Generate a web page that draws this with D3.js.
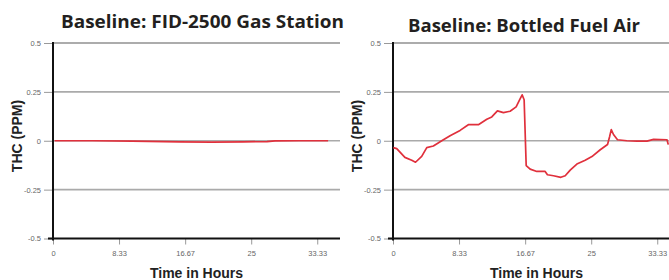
<!DOCTYPE html>
<html>
<head>
<meta charset="utf-8">
<script src="https://cdn.jsdelivr.net/npm/d3@7"></script>
<style>
  body { margin: 0; background: #fff; }
  svg { display: block; }
</style>
</head>
<body>
<div id="chart"></div>
<script>
// Data (hours, ppm)
const xTicks = [0, 8.33, 16.67, 25, 33.33];
const xTickLabels = ['0', '8.33', '16.67', '25', '33.33'];
const yTicks = [0.5, 0.25, 0, -0.25, -0.5];
const yTickLabels = ['0.5', '0.25', '0', '-0.25', '-0.5'];
const gridValues = [0.5, 0.25, 0, -0.25];

const gasStationHours = [0.2, 5, 10, 14, 16, 20, 24, 27, 28, 31, 34.7];
const gasStationPpm = [0, 0, -0.002, -0.004, -0.006, -0.007, -0.006, -0.004, -0.001, 0, 0];

const bottledHours = [0.04, 0.47, 1.5, 2.36, 2.84, 3.62, 4.26, 5.09, 6.15, 7.2, 8.46, 9.5,
  10.77, 11.83, 12.46, 13.17, 13.93, 14.77, 15.53, 15.95, 16.29, 16.54, 16.8, 17.3,
  18.14, 19.19, 19.48, 20.24, 21.17, 21.72, 22.35, 23.19, 24.24, 25.09, 26.14, 27.06,
  27.31, 27.53, 27.81, 28.32, 29.5, 30.77, 32.03, 32.87, 34.56, 34.72];
const bottledPpm = [-0.035, -0.04, -0.085, -0.1, -0.11, -0.08, -0.035, -0.027, 0, 0.026, 0.053, 0.082,
  0.082, 0.11, 0.122, 0.153, 0.144, 0.151, 0.173, 0.208, 0.235, 0.21, -0.127, -0.145,
  -0.157, -0.157, -0.174, -0.179, -0.187, -0.179, -0.15, -0.119, -0.1, -0.081, -0.046, -0.019,
  0.019, 0.057, 0.032, 0.005, 0, -0.002, -0.002, 0.007, 0.005, -0.02];

const titles = ['Baseline: FID-2500 Gas Station', 'Baseline: Bottled Fuel Air'];

const width = 669, height = 280;

const svg = d3.select('#chart')
  .append('svg')
  .attr('width', width)
  .attr('height', height);

function drawPanel(opts) {
  const x = d3.scaleLinear().domain([0, 36.2]).range([opts.left, opts.left + 287]);
  const y = d3.scaleLinear().domain([-0.5, 0.5]).range([238.5, 43]);
  const right = opts.right;
  const g = svg.append('g');

  // gridlines
  g.selectAll('.grid')
    .data(gridValues)
    .enter()
    .append('line')
    .attr('x1', x(0)).attr('x2', right)
    .attr('y1', d => y(d)).attr('y2', d => y(d))
    .attr('stroke', (d, i) => i === 0 ? '#909090' : '#aaa')
    .attr('stroke-width', 1.6);

  // y axis
  const yAxis = d3.axisLeft(y)
    .tickValues(yTicks)
    .tickFormat((d, i) => yTickLabels[i])
    .tickSize(9)
    .tickSizeOuter(0)
    .tickPadding(3);
  const ya = g.append('g')
    .attr('transform', `translate(${x(0)},0)`)
    .call(yAxis);
  ya.select('.domain').remove();
  ya.selectAll('.tick line').attr('stroke', '#999').attr('stroke-width', 1);
  ya.selectAll('.tick text')
    .attr('fill', '#666')
    .attr('font-family', 'Liberation Sans, Arial, sans-serif')
    .attr('font-size', '7.5px');

  // x axis
  const xAxis = d3.axisBottom(x)
    .tickValues(xTicks)
    .tickFormat((d, i) => xTickLabels[i])
    .tickSize(6)
    .tickSizeOuter(0)
    .tickPadding(6);
  const xa = g.append('g')
    .attr('transform', `translate(0,${y(-0.5)})`)
    .call(xAxis);
  xa.select('.domain').remove();
  xa.selectAll('.tick line').attr('stroke', '#999').attr('stroke-width', 1);
  xa.selectAll('.tick text')
    .attr('fill', '#666')
    .attr('font-family', 'Liberation Sans, Arial, sans-serif')
    .attr('font-size', '7.5px');

  // axis lines
  g.append('line')
    .attr('x1', x(0)).attr('x2', x(0))
    .attr('y1', y(0.5) - 1).attr('y2', y(-0.5) + 2)
    .attr('stroke', '#111').attr('stroke-width', 2);
  g.append('line')
    .attr('x1', x(0) - 5).attr('x2', right)
    .attr('y1', y(-0.5)).attr('y2', y(-0.5))
    .attr('stroke', '#111').attr('stroke-width', 2);

  // series
  const line = d3.line()
    .x((d, i) => x(opts.hours[i]))
    .y(d => y(d))
    .curve(d3.curveLinear);
  g.append('path')
    .datum(opts.values)
    .attr('d', line)
    .attr('fill', 'none')
    .attr('stroke', '#e0303c')
    .attr('stroke-width', 1.7)
    .attr('stroke-linejoin', 'round');

  // labels
  g.append('text')
    .attr('transform', `translate(${opts.yLabelX},136) rotate(-90)`)
    .attr('text-anchor', 'middle')
    .attr('font-family', 'Liberation Sans, Arial, sans-serif')
    .attr('font-weight', 'bold')
    .attr('font-size', '14px')
    .attr('fill', '#222')
    .text('THC (PPM)');

  g.append('text')
    .attr('x', (x(0) + x(36.2)) / 2)
    .attr('y', 278)
    .attr('text-anchor', 'middle')
    .attr('font-family', 'Liberation Sans, Arial, sans-serif')
    .attr('font-weight', 'bold')
    .attr('font-size', '14px')
    .attr('fill', '#222')
    .text('Time in Hours');

  g.append('text')
    .attr('x', opts.titleX)
    .attr('y', opts.titleY)
    .attr('font-family', 'Open Sans, sans-serif')
    .attr('font-weight', 'bold')
    .attr('font-size', '17.5px')
    .attr('fill', '#231f20')
    .attr('textLength', opts.titleW)
    .attr('lengthAdjust', 'spacingAndGlyphs')
    .text(opts.title);
}

drawPanel({
  left: 53, right: 340, hours: gasStationHours, values: gasStationPpm,
  title: titles[0], titleX: 61, titleY: 28, titleW: 283, yLabelX: 22
});
drawPanel({
  left: 393, right: 680, hours: bottledHours, values: bottledPpm,
  title: titles[1], titleX: 408, titleY: 32, titleW: 232, yLabelX: 362
});
</script>
</body>
</html>
